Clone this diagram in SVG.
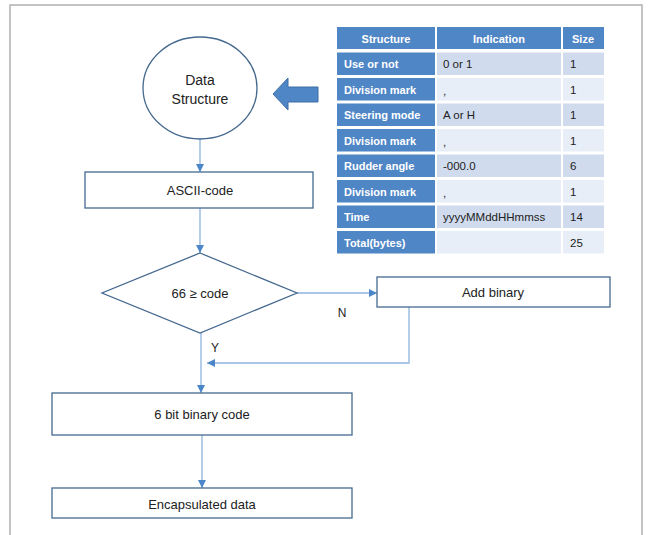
<svg xmlns="http://www.w3.org/2000/svg" width="649" height="535" viewBox="0 0 649 535">
<defs>
<marker id="ah" viewBox="0 0 10 10" refX="10" refY="5" markerWidth="8" markerHeight="8" markerUnits="userSpaceOnUse" orient="auto">
<path d="M0,0 L10,5 L0,10 z" fill="#4a86c8"/>
</marker>
<style>
.node{fill:#fff;stroke:#45698f;stroke-width:1.3}
.lbl{font-family:"Liberation Sans",Arial,sans-serif;font-size:13px;fill:#222;text-anchor:middle;dominant-baseline:central}
.big{font-size:14px}
.con{fill:none;stroke:#8db4dd;stroke-width:1.3}
.hd{fill:#4f86c6}
.c1{fill:#4f86c6}
.dk{fill:#d0dcee}
.lt{fill:#e8eef7}
.th{font-family:"Liberation Sans",Arial,sans-serif;font-size:11px;font-weight:bold;fill:#fff;text-anchor:middle;dominant-baseline:central}
.tf{font-family:"Liberation Sans",Arial,sans-serif;font-size:11px;font-weight:bold;fill:#fff;dominant-baseline:central}
.td{font-family:"Liberation Sans",Arial,sans-serif;font-size:11.5px;fill:#222;dominant-baseline:central}
.yn{font-family:"Liberation Sans",Arial,sans-serif;font-size:12px;fill:#222;text-anchor:middle;dominant-baseline:central}
</style>
</defs>
<rect x="0" y="0" width="649" height="535" fill="#fff"/>
<rect x="10" y="5" width="632" height="540" fill="none" stroke="#b0b0b0" stroke-width="1.5"/>

<g id="connectors">
<line class="con" x1="200" y1="139" x2="200" y2="172" marker-end="url(#ah)"/>
<line class="con" x1="200" y1="208" x2="200" y2="253" marker-end="url(#ah)"/>
<line class="con" x1="297" y1="293" x2="377" y2="293" marker-end="url(#ah)"/>
<polyline class="con" points="409,307 409,363 207,363" marker-end="url(#ah)"/>
<line class="con" x1="201" y1="333" x2="201" y2="393" marker-end="url(#ah)"/>
<line class="con" x1="202" y1="435" x2="202" y2="488" marker-end="url(#ah)"/>
<text class="yn" x="342" y="313">N</text>
<text class="yn" x="215" y="348">Y</text>
</g>

<g id="data-structure">
<ellipse class="node" cx="200" cy="88" rx="57" ry="51"/>
<text class="lbl big" x="200" y="80">Data</text>
<text class="lbl big" x="200" y="99">Structure</text>
</g>

<g id="big-arrow">
<polygon points="273,94 288,78 288,87 318,87 318,102 288,102 288,110" fill="#4f86c6" stroke="#3e6ea6" stroke-width="1"/>
</g>

<g id="ascii-code">
<rect class="node" x="85" y="172" width="228" height="36"/>
<text class="lbl" x="200" y="190">ASCII-code</text>
</g>

<g id="decision">
<polygon class="node" points="200,253 297,293 200,333 102,293"/>
<text class="lbl" x="200" y="293">66 ≥ code</text>
</g>

<g id="add-binary">
<rect class="node" x="377" y="277" width="233" height="30"/>
<text class="lbl" x="493" y="292">Add binary</text>
</g>

<g id="six-bit">
<rect class="node" x="52" y="393" width="300" height="42"/>
<text class="lbl" x="202" y="414">6 bit binary code</text>
</g>

<g id="encapsulated">
<rect class="node" x="52" y="488" width="300" height="30"/>
<text class="lbl" x="202" y="504">Encapsulated data</text>
</g>

<g id="table">
<rect class="hd" x="337" y="27" width="98" height="22"/>
<rect class="hd" x="437" y="27" width="124" height="22"/>
<rect class="hd" x="563" y="27" width="41" height="22"/>
<text class="th" x="386" y="39">Structure</text>
<text class="th" x="499" y="39">Indication</text>
<text class="th" x="583" y="39">Size</text>

<rect class="c1" x="337" y="52.5" width="98" height="22.5"/><rect class="dk" x="437" y="52.5" width="124" height="22.5"/><rect class="dk" x="563" y="52.5" width="41" height="22.5"/>
<text class="tf" x="344" y="64">Use or not</text><text class="td" x="443" y="64">0 or 1</text><text class="td" x="570" y="64">1</text>

<rect class="c1" x="337" y="78" width="98" height="22.5"/><rect class="lt" x="437" y="78" width="124" height="22.5"/><rect class="lt" x="563" y="78" width="41" height="22.5"/>
<text class="tf" x="344" y="89.5">Division mark</text><text class="td" x="443" y="91">,</text><text class="td" x="570" y="89.5">1</text>

<rect class="c1" x="337" y="103.5" width="98" height="22.5"/><rect class="dk" x="437" y="103.5" width="124" height="22.5"/><rect class="dk" x="563" y="103.5" width="41" height="22.5"/>
<text class="tf" x="344" y="115">Steering mode</text><text class="td" x="443" y="115">A or H</text><text class="td" x="570" y="115">1</text>

<rect class="c1" x="337" y="129" width="98" height="22.5"/><rect class="lt" x="437" y="129" width="124" height="22.5"/><rect class="lt" x="563" y="129" width="41" height="22.5"/>
<text class="tf" x="344" y="140.5">Division mark</text><text class="td" x="443" y="142">,</text><text class="td" x="570" y="140.5">1</text>

<rect class="c1" x="337" y="154.5" width="98" height="22.5"/><rect class="dk" x="437" y="154.5" width="124" height="22.5"/><rect class="dk" x="563" y="154.5" width="41" height="22.5"/>
<text class="tf" x="344" y="166">Rudder angle</text><text class="td" x="443" y="166">-000.0</text><text class="td" x="570" y="166">6</text>

<rect class="c1" x="337" y="180" width="98" height="22.5"/><rect class="lt" x="437" y="180" width="124" height="22.5"/><rect class="lt" x="563" y="180" width="41" height="22.5"/>
<text class="tf" x="344" y="191.5">Division mark</text><text class="td" x="443" y="193">,</text><text class="td" x="570" y="191.5">1</text>

<rect class="c1" x="337" y="205.5" width="98" height="22.5"/><rect class="dk" x="437" y="205.5" width="124" height="22.5"/><rect class="dk" x="563" y="205.5" width="41" height="22.5"/>
<text class="tf" x="344" y="217">Time</text><text class="td" x="443" y="217">yyyyMMddHHmmss</text><text class="td" x="570" y="217">14</text>

<rect class="c1" x="337" y="231" width="98" height="22.5"/><rect class="lt" x="437" y="231" width="124" height="22.5"/><rect class="lt" x="563" y="231" width="41" height="22.5"/>
<text class="tf" x="344" y="242.5">Total(bytes)</text><text class="td" x="570" y="242.5">25</text>
</g>
</svg>
